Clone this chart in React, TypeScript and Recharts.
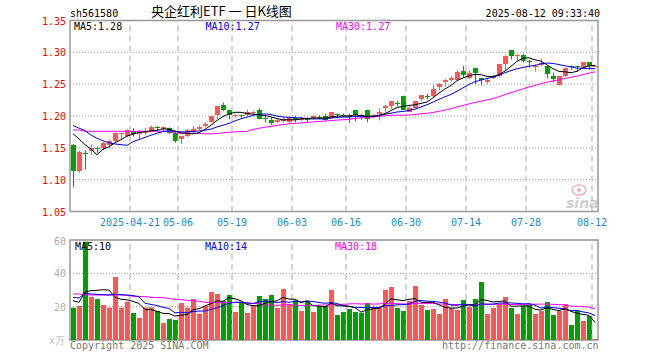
import React from 'react';
import {
  ComposedChart,
  Bar,
  Line,
  XAxis,
  YAxis,
  CartesianGrid,
  ReferenceLine,
  ReferenceArea,
} from 'recharts';

const MONO = '"DejaVu Sans Mono", monospace';
const UP = '#ff5555';
const DOWN = '#00a000';

const dates = [
  '2025-04-07', '2025-04-08', '2025-04-09', '2025-04-10', '2025-04-11', '2025-04-14', '2025-04-15', '2025-04-16', '2025-04-17', '2025-04-18',
  '2025-04-21', '2025-04-22', '2025-04-23', '2025-04-24', '2025-04-25', '2025-04-28', '2025-04-29', '2025-04-30',
  '2025-05-06', '2025-05-07', '2025-05-08', '2025-05-09', '2025-05-12', '2025-05-13', '2025-05-14', '2025-05-15', '2025-05-16',
  '2025-05-19', '2025-05-20', '2025-05-21', '2025-05-22', '2025-05-23', '2025-05-26', '2025-05-27', '2025-05-28', '2025-05-29', '2025-05-30',
  '2025-06-03', '2025-06-04', '2025-06-05', '2025-06-06', '2025-06-09', '2025-06-10', '2025-06-11', '2025-06-12', '2025-06-13',
  '2025-06-16', '2025-06-17', '2025-06-18', '2025-06-19', '2025-06-20', '2025-06-23', '2025-06-24', '2025-06-25', '2025-06-26', '2025-06-27',
  '2025-06-30', '2025-07-01', '2025-07-02', '2025-07-03', '2025-07-04', '2025-07-07', '2025-07-08', '2025-07-09', '2025-07-10', '2025-07-11',
  '2025-07-14', '2025-07-15', '2025-07-16', '2025-07-17', '2025-07-18', '2025-07-21', '2025-07-22', '2025-07-23', '2025-07-24', '2025-07-25',
  '2025-07-28', '2025-07-29', '2025-07-30', '2025-07-31', '2025-08-01', '2025-08-04', '2025-08-05', '2025-08-06', '2025-08-07', '2025-08-08',
  '2025-08-11', '2025-08-12',
];

const opens = [
  1.154, 1.113, 1.142, 1.145, 1.150, 1.150, 1.155, 1.160, 1.172, 1.168,
  1.176, 1.171, 1.174, 1.175, 1.182, 1.180, 1.181, 1.174, 1.164, 1.168,
  1.175, 1.180, 1.185, 1.191, 1.202, 1.217, 1.210, 1.200, 1.201, 1.201,
  1.205, 1.210, 1.197, 1.193, 1.191, 1.192, 1.191, 1.197, 1.194, 1.196,
  1.197, 1.199, 1.200, 1.197, 1.203, 1.202, 1.200, 1.210, 1.201, 1.210,
  1.200, 1.203, 1.212, 1.216, 1.221, 1.232, 1.207, 1.213, 1.226, 1.232,
  1.232, 1.245, 1.253, 1.256, 1.257, 1.271, 1.260, 1.276, 1.259, 1.254,
  1.260, 1.263, 1.282, 1.304, 1.294, 1.296, 1.286, 1.278, 1.280, 1.279,
  1.263, 1.249, 1.263, 1.278, 1.278, 1.275, 1.285, 1.278,
];
const highs = [
  1.156, 1.145, 1.146, 1.155, 1.151, 1.159, 1.163, 1.174, 1.174, 1.179,
  1.181, 1.178, 1.181, 1.185, 1.184, 1.184, 1.182, 1.175, 1.168, 1.179,
  1.184, 1.185, 1.190, 1.200, 1.216, 1.221, 1.210, 1.203, 1.202, 1.210,
  1.208, 1.212, 1.200, 1.198, 1.195, 1.198, 1.198, 1.200, 1.198, 1.198,
  1.201, 1.201, 1.203, 1.206, 1.204, 1.204, 1.203, 1.210, 1.203, 1.210,
  1.203, 1.212, 1.218, 1.224, 1.224, 1.232, 1.215, 1.223, 1.233, 1.235,
  1.248, 1.252, 1.258, 1.263, 1.272, 1.279, 1.272, 1.276, 1.259, 1.259,
  1.264, 1.282, 1.295, 1.304, 1.297, 1.297, 1.288, 1.281, 1.290, 1.279,
  1.268, 1.263, 1.276, 1.279, 1.279, 1.285, 1.285, 1.280,
];
const lows = [
  1.088, 1.111, 1.116, 1.139, 1.142, 1.146, 1.150, 1.158, 1.164, 1.167,
  1.168, 1.163, 1.171, 1.175, 1.178, 1.175, 1.172, 1.158, 1.156, 1.167,
  1.172, 1.178, 1.182, 1.189, 1.195, 1.208, 1.195, 1.197, 1.197, 1.200,
  1.201, 1.195, 1.190, 1.186, 1.189, 1.190, 1.189, 1.190, 1.192, 1.190,
  1.195, 1.195, 1.192, 1.196, 1.198, 1.198, 1.189, 1.192, 1.194, 1.190,
  1.196, 1.193, 1.206, 1.211, 1.215, 1.210, 1.206, 1.212, 1.223, 1.226,
  1.230, 1.240, 1.246, 1.254, 1.256, 1.261, 1.258, 1.250, 1.248, 1.251,
  1.258, 1.261, 1.272, 1.289, 1.287, 1.284, 1.276, 1.270, 1.278, 1.259,
  1.253, 1.248, 1.261, 1.272, 1.269, 1.275, 1.273, 1.277,
];
const closes = [
  1.113, 1.143, 1.141, 1.150, 1.149, 1.157, 1.161, 1.173, 1.174, 1.178,
  1.171, 1.176, 1.176, 1.183, 1.181, 1.183, 1.174, 1.161, 1.168, 1.178,
  1.179, 1.182, 1.188, 1.200, 1.216, 1.210, 1.202, 1.201, 1.200, 1.206,
  1.206, 1.196, 1.196, 1.189, 1.193, 1.195, 1.198, 1.194, 1.197, 1.195,
  1.200, 1.198, 1.193, 1.206, 1.202, 1.201, 1.199, 1.201, 1.200, 1.195,
  1.201, 1.207, 1.216, 1.223, 1.220, 1.210, 1.213, 1.223, 1.233, 1.231,
  1.243, 1.250, 1.256, 1.260, 1.269, 1.264, 1.267, 1.267, 1.257, 1.256,
  1.263, 1.282, 1.295, 1.294, 1.296, 1.287, 1.285, 1.279, 1.284, 1.266,
  1.258, 1.263, 1.276, 1.277, 1.277, 1.285, 1.279, 1.279,
];

// 成交量（万手）
const volumes = [
  19.4, 20.4, 59, 25.8, 24.6, 21, 19.4, 37.8, 19.4, 23,
  16.2, 13.2, 19.6, 19.6, 17.4, 10.2, 12.6, 12, 22.2, 19.4,
  24.6, 15.8, 20.4, 28.8, 27.6, 23.4, 27, 16.8, 22.8, 16.2,
  20.4, 26.4, 24.6, 27, 19.2, 30.6, 21.6, 23.8, 17.4, 23.4,
  16.8, 20.4, 20.4, 30, 15, 16.8, 18.6, 16.8, 16.2, 22.2,
  19.8, 19.8, 30, 31.8, 19.2, 17.4, 23.4, 32.4, 21, 18,
  18.6, 15.6, 24.6, 19.2, 18, 24, 19.8, 24.6, 34.8, 15.6,
  19.2, 21.6, 25.8, 19.2, 15.6, 20.4, 21, 15.6, 17.4, 22.8,
  15, 17.4, 21.6, 9, 17.4, 11.4, 14.4, 0.6,
];

// MA values at the left edge, where the history behind them is off screen
const ma5Head = [1.172, 1.164, 1.155, 1.148];
const ma10Head = [1.185, 1.181, 1.177, 1.170, 1.165, 1.161, 1.158, 1.156, 1.155];
const ma30Head = [
  1.178, 1.178, 1.176, 1.176, 1.176, 1.176, 1.176, 1.176, 1.176, 1.176,
  1.176, 1.176, 1.176, 1.176, 1.176, 1.176, 1.176, 1.173, 1.173, 1.173,
  1.173, 1.173, 1.172, 1.172, 1.1725, 1.1735, 1.1745, 1.175, 1.1755,
];
const vma5Head = [23.6, 22.6, 28.8, 29.6];
const vma10Head = [25.6, 25.2, 28, 27.6, 27.4, 27.2, 27, 27.4, 27.2];
const vma30Head = [
  27.6, 27.6, 27.2, 27, 27, 27, 27, 27, 27, 26.8,
  26.2, 26.2, 26, 25.6, 25.4, 25.4, 25, 24.2, 24.2, 23.8,
  23.6, 23.2, 22.6, 22.4, 22.4, 22.4, 22.4, 22.6, 22.6,
];

const tickDates = ['2025-04-21', '2025-05-06', '2025-05-19', '2025-06-03', '2025-06-16', '2025-06-30', '2025-07-14', '2025-07-28', '2025-08-12'];
const tickLabels = ['2025-04-21', '05-06', '05-19', '06-03', '06-16', '06-30', '07-14', '07-28', '08-12'];
const priceTicks = [1.05, 1.1, 1.15, 1.2, 1.25, 1.3, 1.35];
const volTicks = [20, 40, 60];

function movingAvg(values: number[], n: number, head: number[]) {
  return values.map((_, i) => {
    if (i < n - 1) return head[i];
    let s = 0;
    for (let k = i - n + 1; k <= i; k++) s += values[k];
    return s / n;
  });
}

const ma5 = movingAvg(closes, 5, ma5Head);
const ma10 = movingAvg(closes, 10, ma10Head);
const ma30 = movingAvg(closes, 30, ma30Head);
const vma5 = movingAvg(volumes, 5, vma5Head);
const vma10 = movingAvg(volumes, 10, vma10Head);
const vma30 = movingAvg(volumes, 30, vma30Head);

const rows = dates.map((date, i) => ({
  date,
  open: opens[i],
  high: highs[i],
  low: lows[i],
  close: closes[i],
  range: [lows[i], highs[i]],
  ma5: ma5[i],
  ma10: ma10[i],
  ma30: ma30[i],
  vol: volumes[i],
  vma5: vma5[i],
  vma10: vma10[i],
  vma30: vma30[i],
}));

function Candle(props: any) {
  const { x, y, width, height, payload } = props;
  if (!payload) return null;
  const { open, close, high, low } = payload;
  const color = close >= open ? UP : DOWN;
  const span = high - low;
  const py = (v: number) => (span > 0 ? y + ((high - v) / span) * height : y);
  const left = Math.floor(x);
  const w = Math.round(width);
  const mid = left + Math.floor(w / 2) + 0.5;
  const top = Math.round(py(Math.max(open, close)));
  const bottom = Math.round(py(Math.min(open, close)));
  return (
    <g>
      <line x1={mid} x2={mid} y1={py(high)} y2={py(low)} stroke={color} strokeWidth={1} />
      <rect x={left} y={top} width={w} height={Math.max(1, bottom - top)} fill={color} />
    </g>
  );
}

function VolBar(props: any) {
  const { x, y, width, height, payload } = props;
  if (!payload) return null;
  const color = payload.close >= payload.open ? UP : DOWN;
  return <rect x={Math.floor(x)} y={y} width={Math.round(width)} height={Math.max(0, height)} fill={color} />;
}

function DateTick(props: any) {
  const { x, y, payload } = props;
  const idx = tickDates.indexOf(payload.value);
  if (idx < 0) return <g />;
  return (
    <text x={x - 3} y={y + 6} textAnchor="middle" fill="#1a8ad4" fontSize={10} fontFamily={MONO}>
      {tickLabels[idx]}
    </text>
  );
}

function PriceTick(props: any) {
  const { y, payload } = props;
  return (
    <text x={66} y={y + 4} textAnchor="end" fill="#ff0000" fontSize={10} fontFamily={MONO}>
      {Number(payload.value).toFixed(2)}
    </text>
  );
}

function VolTick(props: any) {
  const { y, payload } = props;
  return (
    <text x={66} y={y + 4} textAnchor="end" fill="#aaaaaa" fontSize={10} fontFamily={MONO}>
      {payload.value}
    </text>
  );
}

export default function App() {
  return (
    <div style={{ position: 'absolute', left: 0, top: 0, width: 660, height: 360, background: '#fff' }}>
      <div style={{ position: 'absolute', left: 0, top: 0 }}>
        <ComposedChart width={660} height={240} data={rows} margin={{ top: 20.5, right: 62, bottom: 0, left: 0 }}>
          <CartesianGrid vertical={false} stroke="#999" strokeDasharray="1 2" />
          <XAxis dataKey="date" interval={0} height={28.5} tickLine={false} axisLine={false} tick={<DateTick />} />
          <YAxis
            domain={[1.05, 1.35]}
            ticks={priceTicks}
            width={70}
            tickLine={false}
            axisLine={false}
            allowDataOverflow
            tick={<PriceTick />}
          />
          {tickDates.map((d) => (
            <ReferenceLine key={d} x={d} position="start" stroke="#aaa" strokeDasharray="6 4" />
          ))}
          <Bar dataKey="range" barSize={5} shape={<Candle />} isAnimationActive={false} />
          <Line dataKey="ma30" stroke="#ff00ff" strokeWidth={1} dot={false} type="linear" isAnimationActive={false} />
          <Line dataKey="ma10" stroke="#0000ff" strokeWidth={1} dot={false} type="linear" isAnimationActive={false} />
          <Line dataKey="ma5" stroke="#000000" strokeWidth={1} dot={false} type="linear" isAnimationActive={false} />
          <ReferenceArea y1={1.05} y2={1.35} fill="none" fillOpacity={0} stroke="#999" strokeWidth={1.5} />
        </ComposedChart>
      </div>
      <div style={{ position: 'absolute', left: 0, top: 232 }}>
        <ComposedChart width={660} height={128} data={rows} margin={{ top: 8, right: 62, bottom: 20, left: 0 }}>
          <CartesianGrid vertical={false} stroke="#999" strokeDasharray="1 2" />
          <XAxis dataKey="date" hide />
          <YAxis domain={[0, 60]} ticks={volTicks} width={70} tickLine={false} axisLine={false} allowDataOverflow tick={<VolTick />} />
          {tickDates.map((d) => (
            <ReferenceLine key={d} x={d} position="start" stroke="#aaa" strokeDasharray="6 4" />
          ))}
          <Bar dataKey="vol" barSize={5} shape={<VolBar />} isAnimationActive={false} />
          <Line dataKey="vma30" stroke="#ff00ff" strokeWidth={1} dot={false} type="linear" isAnimationActive={false} />
          <Line dataKey="vma10" stroke="#0000ff" strokeWidth={1} dot={false} type="linear" isAnimationActive={false} />
          <Line dataKey="vma5" stroke="#000000" strokeWidth={1} dot={false} type="linear" isAnimationActive={false} />
          <ReferenceArea y1={0} y2={60} fill="none" fillOpacity={0} stroke="#999" strokeWidth={1.5} />
        </ComposedChart>
      </div>
      <svg width={660} height={360} style={{ position: 'absolute', left: 0, top: 0, pointerEvents: 'none' }}>
        <g fontFamily={MONO} fontSize={10}>
          <text x={70} y={16.5} fill="#000">sh561580</text>
          <text x={600} y={16.5} fill="#000" textAnchor="end">2025-08-12 09:33:40</text>
          <text x={74} y={30} fill="#000">MA5:1.28</text>
          <text x={205.5} y={30} fill="#0000ff">MA10:1.27</text>
          <text x={336} y={30} fill="#ff00ff">MA30:1.27</text>
          <text x={75} y={250} fill="#000">MA5:10</text>
          <text x={205} y={250} fill="#0000ff">MA10:14</text>
          <text x={335} y={250} fill="#ff00ff">MA30:18</text>
          <text x={70} y={349} fill="#777">Copyright 2025 SINA.COM</text>
          <text x={442} y={349} fill="#777">http://finance.sina.com.cn</text>
          <text x={49} y={344} fill="#bbb">x万</text>
        </g>
        <text x={151} y={16} fontFamily='"Noto Sans CJK SC", sans-serif' fontSize={13} fill="#000">
          央企红利ETF 一 日K线图
        </text>
        <g opacity={0.55}>
          <ellipse cx={579} cy={190} rx={7} ry={5} fill="none" stroke="#e07070" strokeWidth={1.5} />
          <circle cx={579} cy={190} r={2} fill="#e07070" />
          <text x={566} y={208} fontFamily='"DejaVu Sans", sans-serif' fontSize={14} fontWeight="bold" fontStyle="italic" fill="#aaa">
            sina
          </text>
        </g>
      </svg>
    </div>
  );
}
